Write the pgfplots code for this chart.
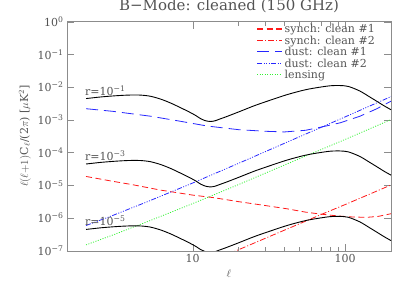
\documentclass[border=0pt]{standalone}
\usepackage{fontspec}
\setmainfont{DejaVu Serif}
\usepackage{pgfplots}
\pgfplotsset{compat=1.18}
\usetikzlibrary{calc}
\definecolor{txt}{gray}{0.33}
\definecolor{ax}{gray}{0.55}
\definecolor{myred}{rgb}{1,0.1,0.1}
\definecolor{myblue}{rgb}{0.15,0.15,1}
\definecolor{mygreen}{rgb}{0.2,0.95,0.2}
\newcommand{\lt}[1]{\textcolor{txt}{#1}}
\tikzset{
  synA/.style={myred, line width=0.8pt, dash pattern=on 6pt off 3.5pt},
  synB/.style={myred, line width=0.8pt, dash pattern=on 6pt off 2pt on 1pt off 2pt},
  dusA/.style={myblue, line width=0.8pt, dash pattern=on 12pt off 6pt},
  dusB/.style={myblue, line width=0.8pt, dash pattern=on 5pt off 1.5pt on 1pt off 1.5pt on 1pt off 1.5pt on 1pt off 1.5pt},
  lens/.style={mygreen, line width=0.8pt, dash pattern=on 1pt off 1.5pt},
}
\begin{document}
\begin{tikzpicture}
\begin{axis}[
  scale only axis, width=324pt, height=229pt,
  xmode=log, ymode=log,
  xmin=1.5, xmax=200, ymin=1e-7, ymax=1,
  axis line style={ax}, tick style={ax},
  every tick label/.append style={text=txt, font=\fontsize{11}{11}\selectfont},
  xtick={10,100}, xticklabels={10,100},
  ytick={1e-7,1e-6,1e-5,1e-4,1e-3,1e-2,1e-1,1},
  yticklabels={10\textsuperscript{−7},10\textsuperscript{−6},10\textsuperscript{−5},10\textsuperscript{−4},10\textsuperscript{−3},10\textsuperscript{−2},10\textsuperscript{−1},10\textsuperscript{0}},
  yminorticks=false,
  major tick length=7pt, minor tick length=4pt,
  title={B−Mode: cleaned (150 GHz)},
  title style={font=\fontsize{15}{15}\selectfont, text=txt, yshift=-1pt},
  xlabel={$\ell$}, ylabel={$\ell(\ell{+}1)$C$_\ell$/(2$\pi$) [$\mu$K$^2$]},
  label style={text=txt, font=\fontsize{11}{11}\selectfont},
  legend style={draw=none, fill=none, at={(1,1)}, anchor=north east, xshift=-11pt, yshift=1.5pt,
    font=\fontsize{11}{11}\selectfont, row sep=-2.4pt},
  legend cell align=left,
  legend image code/.code={\draw[#1, line width=1.2pt] (0pt,0.4pt) -- (25pt,0.4pt);},
]
\addlegendimage{synA}\addlegendentry{\lt{synch: clean \#1}}
\addlegendimage{synB}\addlegendentry{\lt{synch: clean \#2}}
\addlegendimage{dusA}\addlegendentry{\lt{dust: clean \#1}}
\addlegendimage{dusB}\addlegendentry{\lt{dust: clean \#2}}
\addlegendimage{lens}\addlegendentry{\lt{lensing}}
% synch clean #1
\addplot[synA, forget plot] coordinates {
(2,1.86e-5)(3,1.32e-5)(4,1.05e-5)(6.2,7.08e-6)(10,5.01e-6)(13.8,4.17e-6)(20,3.16e-6)(30,2.40e-6)(41.6,1.91e-6)(55,1.51e-6)(68.7,1.32e-6)(90,1.15e-6)(113,1.07e-6)(140,1.05e-6)(165,1.12e-6)(200,1.35e-6)};
% synch clean #2
\addplot[synB, forget plot] coordinates {
(15,6.17e-8)(20,1.07e-7)(30,2.40e-7)(50,6.61e-7)(70,1.29e-6)(100,2.57e-6)(150,5.75e-6)(200,1.02e-5)};
% dust clean #1
\addplot[dusA, forget plot] coordinates {
(2,2.19e-3)(3,1.82e-3)(5.3,1.29e-3)(8,9.33e-4)(12.5,6.46e-4)(20,5.01e-4)(30,4.47e-4)(40,4.27e-4)(55,4.79e-4)(70,6.03e-4)(93,8.13e-4)(125,1.29e-3)(160,2.14e-3)(200,3.72e-3)};
% dust clean #2
\addplot[dusB, forget plot] coordinates {
(2,5.89e-7)(3,1.20e-6)(5,3.09e-6)(10,1.17e-5)(20,4.68e-5)(50,3.02e-4)(100,1.23e-3)(200,5.13e-3)};
% lensing
\addplot[lens, forget plot] coordinates {
(2,1.51e-7)(3,3.02e-7)(5,7.59e-7)(10,2.75e-6)(20,1.05e-5)(50,6.46e-5)(100,2.51e-4)(200,1.02e-3)};
% r = 0.1
\addplot[black, line width=0.9pt, smooth, tension=0.5, forget plot] coordinates {
(2,4.47e-3)(2.5,5.01e-3)(3,5.37e-3)(3.5,5.62e-3)(4,5.75e-3)(4.6,5.69e-3)(5.3,5.25e-3)(6.2,4.27e-3)(7.2,3.24e-3)(8.35,2.34e-3)(9.5,1.74e-3)(10.5,1.35e-3)(11.3,1.08e-3)(12,9.55e-4)(13,8.91e-4)(14,9.33e-4)(15,1.05e-3)(16.5,1.23e-3)(20,1.74e-3)(25,2.63e-3)(30,3.55e-3)(41.6,5.89e-3)(55,8.32e-3)(68.7,1.00e-2)(80,1.10e-2)(92,1.12e-2)(105,1.05e-2)(125,7.59e-3)(145,5.01e-3)(161,3.72e-3)(180,2.69e-3)(200,2.04e-3)};
% r = 1e-3
\addplot[black, line width=0.9pt, smooth, tension=0.5, forget plot] coordinates {
(2,4.47e-5)(2.5,5.01e-5)(3,5.37e-5)(3.5,5.62e-5)(4,5.75e-5)(4.6,5.69e-5)(5.3,5.25e-5)(6.2,4.27e-5)(7.2,3.24e-5)(8.35,2.34e-5)(9.5,1.74e-5)(10.5,1.35e-5)(11.3,1.08e-5)(12,9.55e-6)(13,8.91e-6)(14,9.33e-6)(15,1.05e-5)(16.5,1.23e-5)(20,1.74e-5)(25,2.63e-5)(30,3.55e-5)(41.6,5.89e-5)(55,8.32e-5)(68.7,1.00e-4)(80,1.10e-4)(92,1.12e-4)(105,1.05e-4)(125,7.59e-5)(145,5.01e-5)(161,3.72e-5)(180,2.69e-5)(200,2.04e-5)};
% r = 1e-5
\addplot[black, line width=0.9pt, smooth, tension=0.5, forget plot] coordinates {
(2,4.47e-7)(2.5,5.01e-7)(3,5.37e-7)(3.5,5.62e-7)(4,5.75e-7)(4.6,5.69e-7)(5.3,5.25e-7)(6.2,4.27e-7)(7.2,3.24e-7)(8.35,2.34e-7)(9.5,1.74e-7)(10.5,1.35e-7)(11.3,1.08e-7)(12,9.55e-8)(13,8.91e-8)(14,9.33e-8)(15,1.05e-7)(16.5,1.23e-7)(20,1.74e-7)(25,2.63e-7)(30,3.55e-7)(41.6,5.89e-7)(55,8.32e-7)(68.7,1.00e-6)(80,1.10e-6)(92,1.12e-6)(105,1.05e-6)(125,7.59e-7)(145,5.01e-7)(161,3.72e-7)(180,2.69e-7)(200,2.04e-7)};
\node[anchor=base west, text=txt, font=\fontsize{11}{11}\selectfont, inner sep=0pt] at (axis cs:1.97,5.6e-3) {r=10\textsuperscript{−1}};
\node[anchor=base west, text=txt, font=\fontsize{11}{11}\selectfont, inner sep=0pt] at (axis cs:1.97,5.6e-5) {r=10\textsuperscript{−3}};
\node[anchor=base west, text=txt, font=\fontsize{11}{11}\selectfont, inner sep=0pt] at (axis cs:1.97,5.9e-7) {r=10\textsuperscript{−5}};
\end{axis}
\pgfresetboundingbox
\path ($(current axis.south west)+(-67pt,-43pt)$) rectangle ($(current axis.north east)+(20pt,21.7pt)$);
\end{tikzpicture}
\end{document}
